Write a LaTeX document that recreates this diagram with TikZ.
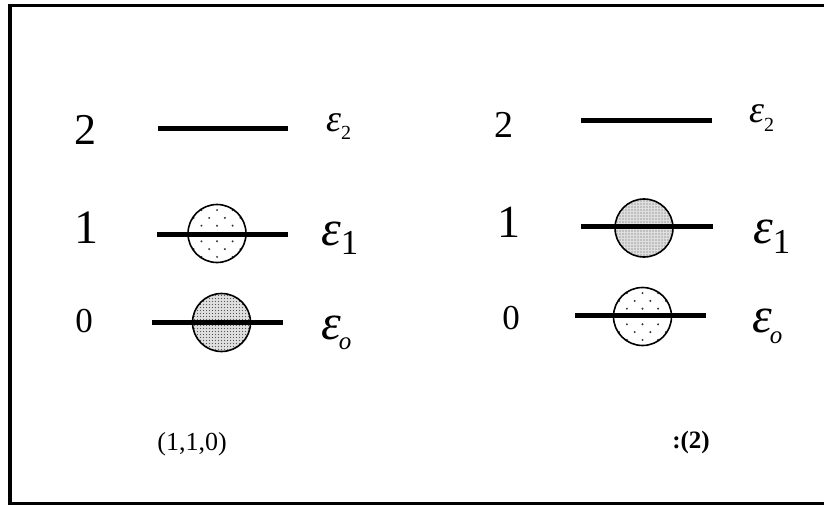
\documentclass[tikz,border=0pt]{standalone}
\usepackage{fontspec}
\setmainfont{Liberation Serif}
\newcommand{\fs}[1]{\fontsize{#1}{#1}\selectfont}
\tikzset{
  lvl/.style={line width=5pt},
  orb/.style={circle, draw, line width=1.6pt, minimum size=58pt, inner sep=0pt},
  sparse/.style={orb, fill=white, path picture={
      \begin{scope}[shift={(path picture bounding box.center)}]
        \foreach \j in {-4,-2,0,2,4} \foreach \i in {-2,...,1}
          \fill[black!80] (\i*15.6+7.8, \j*7.8) circle (1.1pt);
        \foreach \j in {-3,-1,1,3} \foreach \i in {-2,...,2}
          \fill[black!80] (\i*15.6, \j*7.8) circle (1.1pt);
      \end{scope}}},
  dense/.style={orb, fill=gray!25, path picture={
      \begin{scope}[shift={(path picture bounding box.center)}]
        \foreach \j in {-10,...,10} \foreach \i in {-10,...,10}
          \fill[black!65] (\i*3, \j*3) circle (0.7pt);
      \end{scope}}},
  num/.style={inner sep=0pt},
  elab/.style={inner sep=0pt, anchor=base west},
}
\begin{document}
\begin{tikzpicture}[x=1pt, y=-1pt]
  \useasboundingbox (0,0) rectangle (824,505);
  % frame
  \draw[line width=3.5pt] (824,5.3) -- (10,5.3) -- (10,503.5) -- (824,503.5);

  % ---------- left diagram ----------
  \node[num, font=\fs{44}] (l2) at (85,129.5) {2};
  \node[num, font=\fs{48}] (l1) at (86,227.5) {1};
  \node[num, font=\fs{35}] (l0) at (84,321.5) {0};

  \node[sparse] (lc1) at (217,233.5) {};
  \node[dense]  (lc0) at (221.5,322.5) {};

  \coordinate (l2a) at (158,129); \coordinate (l2b) at (288,129);
  \coordinate (l1a) at (157,234); \coordinate (l1b) at (288,234);
  \coordinate (l0a) at (152,322); \coordinate (l0b) at (283,322);
  \draw[lvl] (l2a) -- (l2b);
  \draw[lvl] (l1a) -- (l1b);
  \draw[lvl] (l0a) -- (l0b);

  \node[elab, font=\fs{38}] (le2) at (326,132)
    {\itshape ε\upshape\raisebox{-8pt}{\fs{20}2}};
  \node[elab, font=\fs{50}] (le1) at (321,245)
    {\itshape ε\upshape\raisebox{-9pt}{\fs{35}1}};
  \node[elab, font=\fs{50}] (le0) at (321,339)
    {\itshape ε\hspace{-2pt}\raisebox{-10pt}{\fs{25}o}};

  \node[num, font=\fs{26}] (lt) at (192,444) {(1,1,0)};

  % ---------- right diagram ----------
  \node[num, font=\fs{38}] (r2) at (504,125) {2};
  \node[num, font=\fs{46}] (r1) at (509,222) {1};
  \node[num, font=\fs{35}] (r0) at (511,318) {0};

  \node[dense]  (rc1) at (644,228) {};
  \node[sparse] (rc0) at (642.5,316.5) {};

  \coordinate (r2a) at (581,121); \coordinate (r2b) at (712,121);
  \coordinate (r1a) at (581,226); \coordinate (r1b) at (713,226);
  \coordinate (r0a) at (575,315); \coordinate (r0b) at (706,315);
  \draw[lvl] (r2a) -- (r2b);
  \draw[lvl] (r1a) -- (r1b);
  \draw[lvl] (r0a) -- (r0b);

  \node[elab, font=\fs{38}] (re2) at (749,123)
    {\itshape ε\upshape\raisebox{-9pt}{\fs{20}2}};
  \node[elab, font=\fs{50}] (re1) at (753,243)
    {\itshape ε\upshape\raisebox{-10pt}{\fs{35}1}};
  \node[elab, font=\fs{50}] (re0) at (752,332)
    {\itshape ε\hspace{-2pt}\raisebox{-11pt}{\fs{25}o}};

  \node[num, font=\bfseries\fs{25}] (rt) at (691,442) {:(2)};
\end{tikzpicture}
\end{document}
